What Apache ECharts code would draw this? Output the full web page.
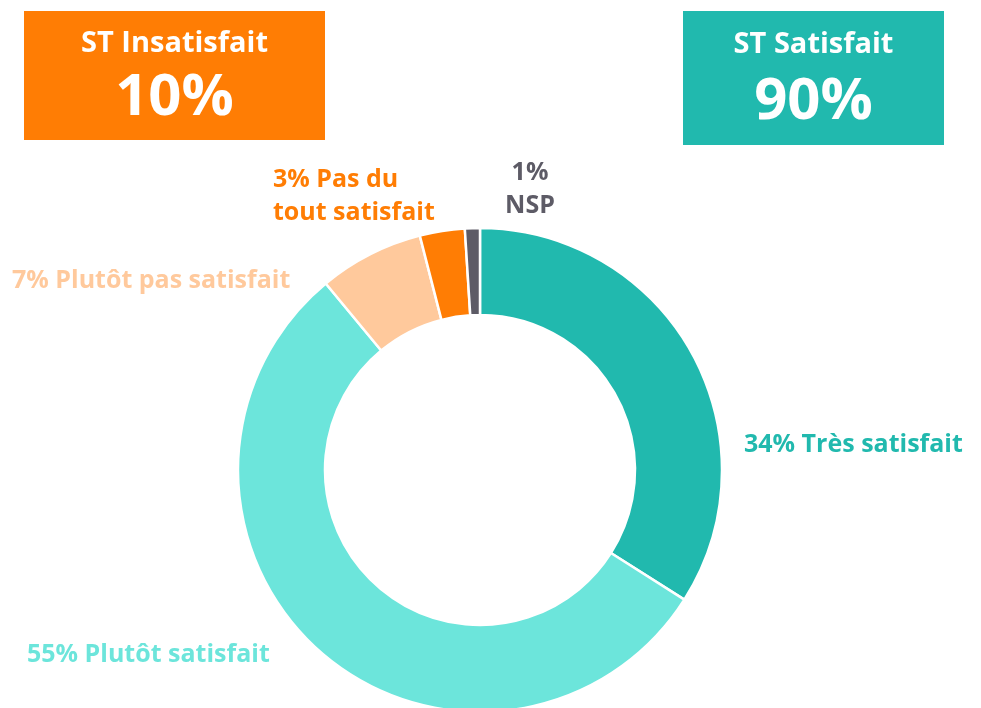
<!DOCTYPE html>
<html>
<head>
<meta charset="utf-8">
<script src="https://cdn.jsdelivr.net/npm/echarts@6/dist/echarts.min.js"></script>
<style>
  html, body { margin: 0; padding: 0; background: #fff; }
  #chart { width: 981px; height: 708px; }
</style>
</head>
<body>
<div id="chart"></div>
<script>
// données du graphique
const categories = ["Très satisfait", "Plutôt satisfait", "Plutôt pas satisfait", "Pas du tout satisfait", "NSP"];
const values = [34, 55, 7, 3, 1];
const labelTexts = ["34% Très satisfait", "55% Plutôt satisfait", "7% Plutôt pas satisfait", "3% Pas du\ntout satisfait", "1%\nNSP"];
const summaryTitles = ["ST Insatisfait", "ST Satisfait"];
const summaryValues = ["10%", "90%"];

const colors = ["#21b9ae", "#6ce5db", "#ffc99c", "#ff7d04", "#5d5b66"];
// position des étiquettes (x, y, alignement)
const labelPos = [
  { x: 744, y: 445, align: "left" },
  { x: 27, y: 655, align: "left" },
  { x: 12, y: 281, align: "left" },
  { x: 273, y: 196, align: "left" },
  { x: 530, y: 189, align: "center" },
];
const FONT = "'Open Sans'";

const chart = echarts.init(document.getElementById("chart"));

function box(x, y, w, h, color, title, value, ty, vy) {
  return {
    type: "group",
    children: [
      { type: "rect", shape: { x: x, y: y, width: w, height: h }, style: { fill: color } },
      {
        type: "text", x: x + w / 2, y: ty,
        style: { text: title, fill: "#fff", font: "bold 29px " + FONT, textAlign: "center", textVerticalAlign: "middle" },
      },
      {
        type: "text", x: x + w / 2, y: vy,
        style: { text: value, fill: "#fff", font: "bold 58px " + FONT, textAlign: "center", textVerticalAlign: "middle" },
      },
    ],
  };
}

chart.setOption({
  animation: false,
  graphic: [
    box(24, 11, 301, 129, "#ff7d04", summaryTitles[0], summaryValues[0], 44, 98),
    box(683, 11, 261, 134, "#21b9ae", summaryTitles[1], summaryValues[1], 45, 102),
  ],
  series: [
    {
      type: "pie",
      center: [480, 470],
      radius: [155, 242],
      startAngle: 90,
      clockwise: true,
      itemStyle: { borderColor: "#fff", borderWidth: 2.5 },
      label: {
        show: true,
        position: "outside",
        overflow: "none",
        formatter: (p) => labelTexts[p.dataIndex],
        fontFamily: FONT,
        fontWeight: "bold",
        fontSize: 25,
        lineHeight: 33,
      },
      labelLine: { show: false },
      labelLayout: (p) => ({
        x: labelPos[p.dataIndex].x,
        y: labelPos[p.dataIndex].y,
        align: labelPos[p.dataIndex].align,
        verticalAlign: "middle",
        hideOverlap: false,
        moveOverlap: false,
      }),
      data: categories.map((c, i) => ({
        name: c,
        value: values[i],
        itemStyle: { color: colors[i] },
        label: { color: colors[i] },
      })),
    },
  ],
});
</script>
</body>
</html>
